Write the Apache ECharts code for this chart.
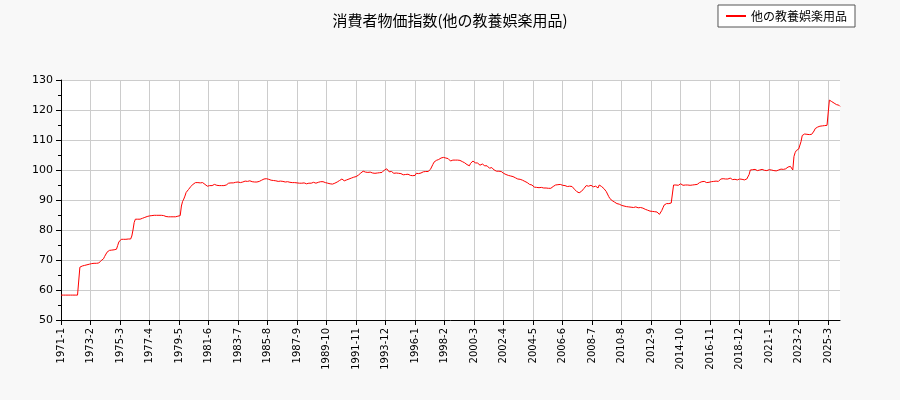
<!DOCTYPE html>
<html>
<head>
<meta charset="utf-8">
<script src="https://cdn.jsdelivr.net/npm/echarts@6/dist/echarts.min.js"></script>
<style>
	html, body { margin: 0; padding: 0; background: #f8f8f8; }
	#main { width: 900px; height: 400px; }
</style>
</head>
<body>
<div id="main"></div>
<script>
	var seriesName = '他の教養娯楽用品';
	var startYear = 1971;

	// 年ごとの月次指数 (1971-1 から)
	var y1971 = [58.3,58.3,58.3,58.3,58.3,58.3,58.3,58.3,58.3,58.3,58.3,58.3];
	var y1972 = [58.3,58.3,58.3,58.3,67.6,67.8,68.0,68.1,68.2,68.3,68.4,68.5];
	var y1973 = [68.6,68.6,68.8,68.8,68.9,68.9,68.9,69.0,69.0,69.5,69.8,70.0];
	var y1974 = [70.4,71.2,71.8,72.6,73.0,73.2,73.3,73.3,73.3,73.4,73.5,73.6];
	var y1975 = [74.8,76.0,76.6,76.9,76.9,76.9,76.9,76.9,76.9,77.0,77.0,77.0];
	var y1976 = [78.0,80.0,82.5,83.6,83.8,83.6,83.5,83.6,83.7,83.9,84.0,84.2];
	var y1977 = [84.4,84.5,84.6,84.7,84.8,84.8,84.9,84.9,84.9,84.9,84.8,84.9];
	var y1978 = [84.9,84.9,84.9,84.8,84.6,84.5,84.4,84.4,84.4,84.4,84.5,84.4];
	var y1979 = [84.4,84.4,84.5,84.6,84.0,84.8,88.0,89.5,90.3,91.3,92.5,93.0];
	var y1980 = [93.5,94.0,94.5,94.9,95.3,95.5,95.8,96.0,95.8,95.6,95.7,95.6];
	var y1981 = [95.8,95.5,95.2,95.0,94.6,95.0,94.8,94.5,94.8,94.6,95.2,94.8];
	var y1982 = [94.9,94.7,94.8,94.9,94.8,94.7,94.8,94.9,95.0,95.5,95.6,95.7];
	var y1983 = [95.7,95.8,95.7,95.8,95.9,95.8,96.0,95.9,95.8,95.9,96.0,96.3];
	var y1984 = [96.3,96.4,96.2,96.3,96.4,96.2,96.1,96.2,96.0,96.1,96.0,96.2];
	var y1985 = [96.2,96.4,96.6,96.8,97.0,97.0,97.1,97.0,96.9,96.7,96.6,96.5];
	var y1986 = [96.5,96.6,96.4,96.3,96.2,96.2,96.3,96.1,96.2,96.2,96.0,96.0];
	var y1987 = [96.1,96.0,95.9,96.0,95.8,95.9,95.8,95.7,95.7,95.8,95.6,95.5];
	var y1988 = [95.6,95.6,95.7,95.5,95.4,95.5,95.6,95.4,95.6,95.7,95.9,96.2];
	var y1989 = [95.6,95.8,95.9,96.0,96.1,96.2,96.1,96.0,95.8,95.7,95.6,95.5];
	var y1990 = [95.4,95.5,95.3,95.4,95.6,95.8,96.0,96.3,96.5,96.8,97.0,97.2];
	var y1991 = [96.4,96.6,96.7,96.9,97.0,97.2,97.3,97.5,97.6,97.6,97.8,98.0];
	var y1992 = [98.3,98.6,99.0,99.3,99.6,99.5,99.3,99.6,99.2,99.0,99.3,99.1];
	var y1993 = [99.0,99.2,98.9,99.1,99.0,98.8,99.1,99.0,99.2,99.6,100.0,100.2];
	var y1994 = [100.4,99.8,99.4,99.9,99.5,99.2,98.9,99.3,99.0,98.7,98.9,98.6];
	var y1995 = [98.8,98.6,98.4,98.7,98.5,98.3,98.6,98.4,98.2,98.6,98.1,98.4];
	var y1996 = [98.2,98.9,99.4,98.8,99.3,99.0,99.2,99.4,99.3,99.5,99.6,99.5];
	var y1997 = [99.8,100.2,100.8,101.8,102.6,103.0,103.2,103.4,103.5,103.6,104.0,103.8];
	var y1998 = [104.2,103.8,104.0,103.6,103.8,103.2,103.0,103.2,103.3,103.4,103.3,103.4];
	var y1999 = [103.3,103.4,103.2,103.0,102.8,102.6,102.4,102.2,101.8,101.5,101.4,102.2];
	var y2000 = [102.8,103.0,102.6,102.4,102.0,102.3,101.9,101.6,101.8,102.0,101.6,101.4];
	var y2001 = [101.9,101.4,101.0,100.6,100.4,100.8,100.2,100.0,99.9,99.6,99.9,99.6];
	var y2002 = [99.4,99.5,99.2,98.9,98.7,98.5,98.4,98.2,98.3,98.0,98.1,97.8];
	var y2003 = [97.5,97.4,97.2,97.0,96.8,96.9,96.5,96.6,96.4,96.2,96.0,95.8];
	var y2004 = [95.5,95.2,94.9,95.0,94.6,94.3,94.4,94.2,94.4,94.1,94.3,94.2];
	var y2005 = [94.1,94.0,93.8,94.0,93.7,93.9,94.1,93.9,94.3,94.5,94.8,95.0];
	var y2006 = [95.3,95.1,94.9,95.2,95.0,94.9,94.6,94.8,94.7,94.5,94.8,94.6];
	var y2007 = [94.7,94.5,94.1,93.6,93.1,92.8,92.6,92.4,92.7,92.9,93.3,93.8];
	var y2008 = [94.3,94.8,95.0,94.6,94.5,94.9,94.8,94.4,94.1,94.6,94.3,94.0];
	var y2009 = [95.0,94.7,94.5,94.2,93.8,93.5,92.8,92.0,91.2,90.5,90.2,89.8];
	var y2010 = [89.5,89.3,89.0,88.8,89.0,88.6,88.4,88.2,88.3,88.0,88.1,87.8];
	var y2011 = [87.9,87.7,87.8,87.6,87.7,87.5,87.6,87.7,87.5,87.4,87.6,87.5];
	var y2012 = [87.4,87.3,87.1,86.9,86.8,86.6,86.8,86.3,86.0,86.2,86.4,86.1];
	var y2013 = [86.5,86.0,85.5,85.2,85.6,86.5,87.4,88.3,88.6,88.8,88.9,88.8];
	var y2014 = [88.9,89.0,89.0,95.0,95.3,95.0,94.7,94.9,95.2,95.4,95.0,94.9];
	var y2015 = [95.1,95.0,94.8,95.0,95.2,94.9,95.1,95.0,94.8,95.1,95.3,95.2];
	var y2016 = [95.4,95.8,96.0,96.1,95.9,96.2,96.0,95.8,96.1,95.9,96.0,96.1];
	var y2017 = [96.0,96.2,96.1,96.3,96.0,96.2,96.8,97.0,97.2,97.1,96.9,97.0];
	var y2018 = [97.2,97.0,97.1,97.3,97.0,96.8,96.6,96.9,96.5,96.7,96.9,97.0];
	var y2019 = [96.8,96.9,97.0,96.7,96.9,97.0,97.2,98.5,100.0,100.3,100.1,99.8];
	var y2020 = [100.2,100.0,99.8,100.1,100.0,99.7,100.2,100.0,99.9,100.1,99.8,100.0];
	var y2021 = [100.1,99.9,100.0,100.2,99.8,100.0,99.7,100.1,100.0,99.9,100.3,100.5];
	var y2022 = [100.2,100.6,100.4,100.8,101.0,100.6,101.2,101.5,100.0,104.5,105.8,106.5];
	var y2023 = [106.8,107.0,107.5,109.5,111.5,111.8,112.0,111.8,111.9,112.1,111.8,112.0];
	var y2024 = [111.9,112.3,113.0,113.8,114.0,114.3,114.4,114.6,114.4,114.7,114.6,114.8];
	var y2025 = [114.8,114.9,115.3,123.3,123.6,122.8,122.6,122.3,122.0,121.8,122.1,121.6];
	var y2026 = [121.2];

	var years = [y1971,y1972,y1973,y1974,y1975,y1976,y1977,y1978,y1979,y1980,
		y1981,y1982,y1983,y1984,y1985,y1986,y1987,y1988,y1989,y1990,
		y1991,y1992,y1993,y1994,y1995,y1996,y1997,y1998,y1999,y2000,
		y2001,y2002,y2003,y2004,y2005,y2006,y2007,y2008,y2009,y2010,
		y2011,y2012,y2013,y2014,y2015,y2016,y2017,y2018,y2019,y2020,
		y2021,y2022,y2023,y2024,y2025,y2026];

	// カテゴリと値を組み立て
	var months = [];
	var values = [];
	years.forEach(function(arr, i) {
		arr.forEach(function(v, m) {
			months.push((startYear + i) + '-' + (m + 1));
			values.push(v);
		});
	});

	var myChart = echarts.init(document.getElementById('main'));
	var option = {
		backgroundColor: '#f8f8f8',
		animation: false,
		title: {
			text: '消費者物価指数(' + seriesName + ')',
			left: 'center',
			top: 8,
			textStyle: { fontFamily: 'Noto Sans CJK JP', fontSize: 15, fontWeight: 'normal', color: '#000' }
		},
		legend: {
			right: 45,
			top: 5,
			orient: 'horizontal',
			backgroundColor: '#fff',
			borderColor: '#555',
			borderWidth: 1,
			borderRadius: 0,
			padding: [5, 8],
			itemWidth: 20,
			itemHeight: 2,
			icon: 'rect',
			textStyle: { fontFamily: 'Noto Sans CJK JP', fontSize: 12, color: '#000' },
			data: [seriesName]
		},
		grid: { left: 61, right: 60, top: 80, bottom: 80, backgroundColor: '#fff', show: true, borderWidth: 0 },
		xAxis: {
			type: 'category',
			boundaryGap: false,
			data: months,
			axisLine: { lineStyle: { color: '#000' } },
			axisTick: { interval: 24, lineStyle: { color: '#000' } },
			axisLabel: { interval: 24, rotate: 90, fontSize: 10, color: '#000', fontFamily: 'DejaVu Sans' },
			splitLine: { show: true, interval: 24, lineStyle: { color: '#ccc' } }
		},
		yAxis: {
			type: 'value',
			min: 50,
			max: 130,
			interval: 10,
			axisLine: { show: true, lineStyle: { color: '#000' } },
			axisTick: { show: true, lineStyle: { color: '#000' } },
			minorTick: { show: true, splitNumber: 2, length: 3, lineStyle: { color: '#000' } },
			axisLabel: { fontSize: 11, color: '#000', fontFamily: 'DejaVu Sans' },
			splitLine: { lineStyle: { color: '#ccc' } }
		},
		series: [
			{
				name: seriesName,
				type: 'line',
				data: values,
				showSymbol: false,
				lineStyle: { color: '#f00', width: 1 },
				itemStyle: { color: '#f00' }
			}
		]
	};
	myChart.setOption(option);
</script>
</body>
</html>
